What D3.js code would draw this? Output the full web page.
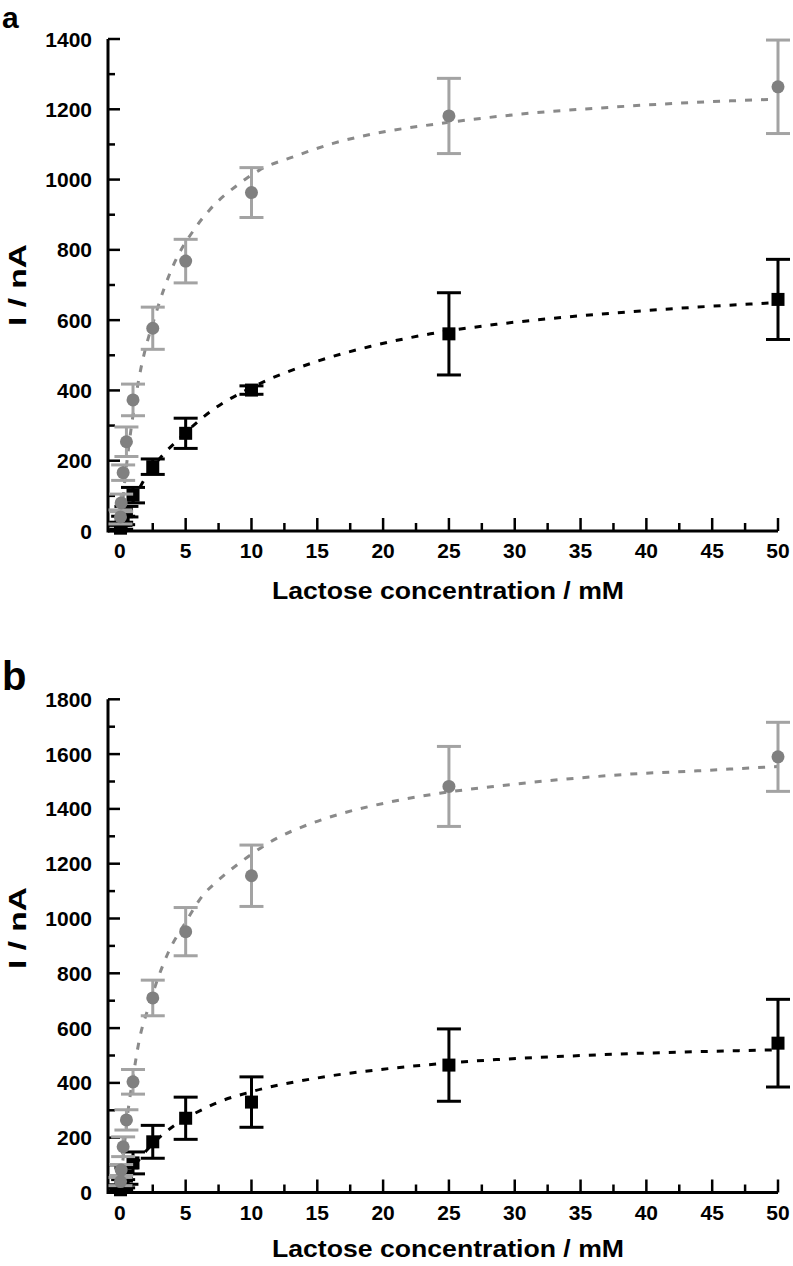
<!DOCTYPE html>
<html>
<head>
<meta charset="utf-8">
<script src="https://cdn.jsdelivr.net/npm/d3@7"></script>
<style>
  html, body { margin: 0; padding: 0; background: #fff; }
  svg { display: block; }
  text { font-family: "Liberation Sans", Arial, Helvetica, sans-serif; font-weight: bold; fill: #000; }
</style>
</head>
<body>
<script>
// ---------- DATA ----------
const concentrations = [0.05, 0.1, 0.25, 0.5, 1, 2.5, 5, 10, 25, 50];
const xTicks = [0, 5, 10, 15, 20, 25, 30, 35, 40, 45, 50];

// Panel a
const grayA     = [40, 80, 166, 254, 373, 577, 768, 963, 1181, 1264];
const grayAErr  = [20, 25, 22, 42, 45, 60, 62, 71, 107, 133];
const blackA    = [8, 15, 30, 55, 102, 183, 278, 401, 561, 659];
const blackAErr = [8, 10, 12, 15, 22, 22, 43, 12, 117, 114];
const fitGrayAX  = [0, 0.5, 1.25, 2.9, 3.8, 5.8, 6.8, 9.1, 10.6, 13.2, 16.2, 19.5, 23.8, 27.4, 31.2, 36.2, 41.3, 46.4, 50];
const fitGrayAY  = [0, 185, 390, 638, 733, 866, 913, 989, 1027, 1065, 1103, 1132, 1157, 1174, 1189, 1203, 1215, 1224, 1229];
const fitBlackAX = [0, 0.5, 1, 1.76, 3.4, 4.3, 6.3, 7.3, 10, 15, 19, 23.6, 28.6, 33.7, 38.8, 43.8, 50];
const fitBlackAY = [0, 45, 85, 140, 222, 255, 323, 351, 408, 483, 525, 561, 588, 608, 624, 637, 650];
const yTicksA = [0, 200, 400, 600, 800, 1000, 1200, 1400];

// Panel b
const grayB     = [40, 82, 167, 265, 404, 710, 952, 1156, 1482, 1590];
const grayBErr  = [15, 20, 36, 37, 45, 65, 88, 112, 146, 126];
const blackB    = [10, 18, 32, 60, 108, 185, 271, 330, 465, 545];
const blackBErr = [8, 10, 15, 30, 40, 60, 77, 92, 132, 160];
const fitGrayBX  = [0, 0.3, 0.63, 1.0, 1.45, 2.2, 3.67, 4.94, 6.33, 7.35, 9.38, 11.66, 14.2, 16.7, 20.3, 24.3, 28.6, 33.7, 38.8, 43.9, 50];
const fitGrayBY  = [0, 150, 300, 420, 550, 680, 875, 982, 1086, 1134, 1213, 1286, 1341, 1381, 1423, 1457, 1483, 1508, 1527, 1539, 1555];
const fitBlackBX = [0, 0.5, 1, 2, 3.17, 4.18, 6.46, 7.35, 10, 15, 20, 24.3, 28.6, 33.7, 38.8, 43.9, 50];
const fitBlackBY = [0, 50, 89, 152, 208, 246, 307, 327, 368, 418, 450, 470, 485, 497, 507, 514, 521];
const yTicksB = [0, 200, 400, 600, 800, 1000, 1200, 1400, 1600, 1800];

const xTitle = "Lactose concentration / mM";
const yTitle = "I / nA";

// ---------- DRAW ----------
const W = 793, H = 1266;
const svg = d3.select("body").append("svg").attr("width", W).attr("height", H);

const GRAY_MARK = "#808080", GRAY_ERR = "#a3a3a3", GRAY_LINE = "#8a8a8a";

function drawPanel(o) {
  const g = svg.append("g");
  const x = d3.scaleLinear().domain([-0.9, 50]).range([108, 778]);
  const y = d3.scaleLinear().domain([0, o.yMax]).range([o.y0, o.yTop]);

  // panel letter
  g.append("text").attr("x", o.letterX).attr("y", o.letterY)
    .style("font-size", o.letterSize + "px").text(o.letter);

  // axes lines
  g.append("line").attr("x1", x.range()[0]).attr("x2", x.range()[1])
    .attr("y1", o.y0).attr("y2", o.y0).attr("stroke", "#000").attr("stroke-width", 3);
  g.append("line").attr("x1", x.range()[0]).attr("x2", x.range()[0])
    .attr("y1", o.y0 + 1.5).attr("y2", o.yTop).attr("stroke", "#000").attr("stroke-width", 3);

  // x ticks (inward)
  const xMinor = xTicks.slice(0, -1).map(v => v + 2.5);
  g.selectAll(null).data(xTicks).join("line")
    .attr("x1", d => x(d)).attr("x2", d => x(d))
    .attr("y1", o.y0).attr("y2", o.y0 - 13)
    .attr("stroke", "#000").attr("stroke-width", 2.5);
  g.selectAll(null).data(xMinor).join("line")
    .attr("x1", d => x(d)).attr("x2", d => x(d))
    .attr("y1", o.y0).attr("y2", o.y0 - 8)
    .attr("stroke", "#000").attr("stroke-width", 2.5);
  g.selectAll(null).data(xTicks).join("text")
    .attr("x", d => x(d)).attr("y", o.y0 + 27)
    .attr("text-anchor", "middle").style("font-size", "21px").text(d => d);

  // y ticks (inward)
  const yMinor = o.yTicks.slice(0, -1).map(v => v + 100);
  g.selectAll(null).data(o.yTicks).join("line")
    .attr("x1", x.range()[0]).attr("x2", x.range()[0] + 12)
    .attr("y1", d => y(d)).attr("y2", d => y(d))
    .attr("stroke", "#000").attr("stroke-width", 2.5);
  g.selectAll(null).data(yMinor).join("line")
    .attr("x1", x.range()[0]).attr("x2", x.range()[0] + 7)
    .attr("y1", d => y(d)).attr("y2", d => y(d))
    .attr("stroke", "#000").attr("stroke-width", 2.5);
  g.selectAll(null).data(o.yTicks).join("text")
    .attr("x", 92).attr("y", d => y(d)).attr("dy", "0.36em")
    .attr("text-anchor", "end").style("font-size", "21px").text(d => d);

  // titles
  g.append("text").attr("x", 448).attr("y", o.xTitleY)
    .attr("text-anchor", "middle").style("font-size", "24px")
    .attr("textLength", 352).attr("lengthAdjust", "spacingAndGlyphs").text(xTitle);
  g.append("text").attr("transform", `translate(26,${o.yTitleY}) rotate(-90)`)
    .attr("text-anchor", "middle").style("font-size", "23px")
    .attr("textLength", 82).attr("lengthAdjust", "spacingAndGlyphs").text(yTitle);

  // fit curves
  const line = d3.line().x(d => x(d[0])).y(d => y(d[1])).curve(d3.curveMonotoneX);
  g.append("path").datum(d3.zip(o.fitBX, o.fitBY)).attr("d", line)
    .attr("fill", "none").attr("stroke", "#000").attr("stroke-width", 3)
    .attr("stroke-dasharray", "7,9");
  g.append("path").datum(d3.zip(o.fitGX, o.fitGY)).attr("d", line)
    .attr("fill", "none").attr("stroke", GRAY_LINE).attr("stroke-width", 3)
    .attr("stroke-dasharray", "7,9");

  function errorBars(vals, errs, color) {
    const data = concentrations.map((c, i) => ({ c, v: vals[i], e: errs[i] }));
    const eg = g.append("g").attr("stroke", color).attr("stroke-width", 3);
    eg.selectAll(null).data(data).join("line")
      .attr("x1", d => x(d.c)).attr("x2", d => x(d.c))
      .attr("y1", d => y(Math.max(0, d.v - d.e))).attr("y2", d => y(d.v + d.e));
    eg.selectAll(null).data(data).join("line")
      .attr("x1", d => x(d.c) - 12).attr("x2", d => x(d.c) + 12)
      .attr("y1", d => y(d.v + d.e)).attr("y2", d => y(d.v + d.e));
    eg.selectAll(null).data(data.filter(d => d.v - d.e > 0)).join("line")
      .attr("x1", d => x(d.c) - 12).attr("x2", d => x(d.c) + 12)
      .attr("y1", d => y(d.v - d.e)).attr("y2", d => y(d.v - d.e));
  }

  // black series
  errorBars(o.black, o.blackErr, "#000");
  g.selectAll(null).data(concentrations.map((c, i) => [c, o.black[i]])).join("rect")
    .attr("x", d => x(d[0]) - 6.5).attr("y", d => y(d[1]) - 6.5)
    .attr("width", 13).attr("height", 13).attr("fill", "#000");

  // gray series
  errorBars(o.gray, o.grayErr, GRAY_ERR);
  g.selectAll(null).data(concentrations.map((c, i) => [c, o.gray[i]])).join("circle")
    .attr("cx", d => x(d[0])).attr("cy", d => y(d[1])).attr("r", 6.5)
    .attr("fill", GRAY_MARK);
}

drawPanel({
  letter: "a", letterX: 2, letterY: 28, letterSize: 30,
  yMax: 1400, y0: 531, yTop: 39, yTicks: yTicksA,
  xTitleY: 599, yTitleY: 285,
  gray: grayA, grayErr: grayAErr, black: blackA, blackErr: blackAErr,
  fitGX: fitGrayAX, fitGY: fitGrayAY, fitBX: fitBlackAX, fitBY: fitBlackAY
});

drawPanel({
  letter: "b", letterX: 2, letterY: 690, letterSize: 40,
  yMax: 1800, y0: 1192.5, yTop: 699.3, yTicks: yTicksB,
  xTitleY: 1257, yTitleY: 928,
  gray: grayB, grayErr: grayBErr, black: blackB, blackErr: blackBErr,
  fitGX: fitGrayBX, fitGY: fitGrayBY, fitBX: fitBlackBX, fitBY: fitBlackBY
});
</script>
</body>
</html>
